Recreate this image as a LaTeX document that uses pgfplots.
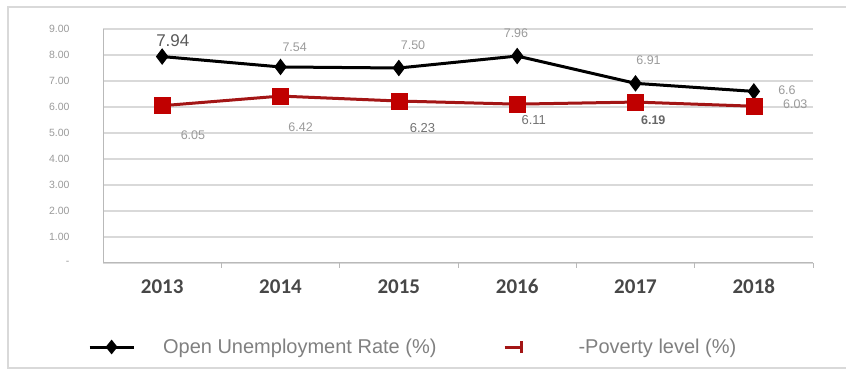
\documentclass[border=0pt]{standalone}
\usepackage{fontspec}
\setmainfont{Liberation Sans}
\newfontfamily\calib{Carlito}
\usepackage{pgfplots}
\pgfplotsset{compat=1.18}
\definecolor{redmk}{HTML}{C00000}
\definecolor{redln}{HTML}{A31515}
\definecolor{gridc}{HTML}{D9D9D9}
\definecolor{lblg}{HTML}{9A9A9A}
\begin{document}
\begin{tikzpicture}
\useasboundingbox (0pt,0pt) rectangle (846pt,369pt);
\draw[gray!30, line width=1.5pt] (8pt,1pt) rectangle (850pt,362pt);
\begin{axis}[
  at={(103pt,106pt)}, anchor=south west,
  scale only axis, width=710pt, height=234pt,
  xmin=-0.5, xmax=5.5, ymin=0, ymax=9,
  clip=false,
  axis x line*=bottom, axis y line*=left,
  axis line style={draw=gray!55, line width=1pt, -},
  xtick={0,1,2,3,4,5},
  xticklabels={2013,2014,2015,2016,2017,2018},
  major tick length=0pt,
  xticklabel style={font=\calib\bfseries\fontsize{21}{21}\selectfont, text=black!72,
    anchor=base, yshift=-31pt},
  minor xtick={0.5,1.5,2.5,3.5,4.5,5.5},
  minor tick length=5pt, tick align=outside,
  minor tick style={draw=gray!55, line width=1pt},
  ytick={0,1,2,3,4,5,6,7,8,9},
  yticklabels={-,1.00,2.00,3.00,4.00,5.00,6.00,7.00,8.00,9.00},
  yticklabel style={font=\fontsize{10.5}{10.5}\selectfont, text=lblg, xshift=-30pt},
  ymajorgrids,
  major grid style={draw=gridc, line width=1.6pt},
  legend columns=2,
  legend style={at={(-0.021,-0.359)}, anchor=west, draw=none, fill=none,
    inner sep=0pt, outer sep=0pt,
    font=\fontsize{20}{20}\selectfont, text=black!50,
    /tikz/every odd column/.append style={column sep=26pt},
    /tikz/every even column/.append style={column sep=38pt}},
]
\addplot[black, line width=3pt, mark=diamond*, mark size=7.5pt,
  mark options={fill=black, line width=1pt},
  legend image code/.code={
    \draw[black, line width=3pt] (0pt,0pt) -- (44pt,0pt);
    \fill[black] (22pt,-5pt) -- (26pt,0pt) -- (22pt,5pt) -- (18pt,0pt) -- cycle;}]
  coordinates {(0,7.94) (1,7.54) (2,7.50) (3,7.96) (4,6.91) (5,6.60)};
\addlegendentry{Open Unemployment Rate (\%)}
\addplot[redln, line width=3pt, mark=square*, mark size=8pt,
  mark options={fill=redmk, draw=redmk, line width=0.5pt},
  legend image code/.code={
    \path[draw=none] (0pt,0pt) -- (74pt,0pt);
    \draw[redln, line width=3pt] (28pt,0pt) -- (46pt,0pt);
    \draw[redln, line width=3pt] (45pt,-6pt) -- (45pt,6pt);}]
  coordinates {(0,6.05) (1,6.42) (2,6.23) (3,6.11) (4,6.19) (5,6.03)};
\addlegendentry{-Poverty level (\%)}
% data labels
\node[font=\fontsize{17}{17}\selectfont, text=black!65] at (axis cs:0.09,8.54) {7.94};
\node[font=\fontsize{12.5}{12.5}\selectfont, text=lblg] at (axis cs:1.12,8.31) {7.54};
\node[font=\fontsize{12.5}{12.5}\selectfont, text=lblg] at (axis cs:2.12,8.38) {7.50};
\node[font=\fontsize{12.5}{12.5}\selectfont, text=lblg] at (axis cs:2.99,8.85) {7.96};
\node[font=\fontsize{12.5}{12.5}\selectfont, text=lblg] at (axis cs:4.11,7.81) {6.91};
\node[font=\fontsize{12.5}{12.5}\selectfont, text=lblg] at (axis cs:5.28,6.65) {6.6};
\node[font=\fontsize{12.5}{12.5}\selectfont, text=lblg] at (axis cs:5.35,6.12) {6.03};
\node[font=\fontsize{12.5}{12.5}\selectfont, text=lblg] at (axis cs:0.26,4.92) {6.05};
\node[font=\fontsize{12.5}{12.5}\selectfont, text=lblg] at (axis cs:1.17,5.23) {6.42};
\node[font=\fontsize{13}{13}\selectfont, text=black!55] at (axis cs:2.20,5.19) {6.23};
\node[font=\fontsize{13}{13}\selectfont, text=black!55] at (axis cs:3.14,5.50) {6.11};
\node[font=\bfseries\fontsize{12.5}{12.5}\selectfont, text=black!60] at (axis cs:4.15,5.50) {6.19};
\end{axis}
\end{tikzpicture}
\end{document}
